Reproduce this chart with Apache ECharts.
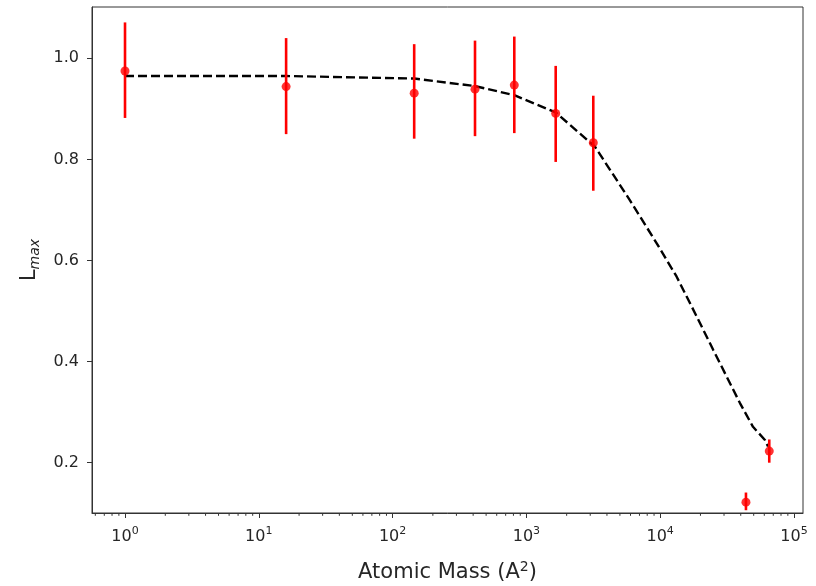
<!DOCTYPE html>
<html>
<head>
<meta charset="utf-8">
<script src="https://cdn.jsdelivr.net/npm/echarts@6/dist/echarts.min.js"></script>
<style>
html,body{margin:0;padding:0;background:#fff;}
#chart{width:816px;height:586px;}
</style>
</head>
<body>
<div id="chart"></div>
<script>
// ---- data ----
const massX   = [1, 16.0, 145, 413, 812, 1656, 3162, 43760, 65350];
const lmaxY   = [0.975, 0.944, 0.931, 0.939, 0.947, 0.891, 0.833, 0.122, 0.223];
const errLow  = [0.882, 0.850, 0.841, 0.846, 0.852, 0.795, 0.738, 0.106, 0.200];
const errHigh = [1.071, 1.040, 1.028, 1.035, 1.043, 0.985, 0.926, 0.141, 0.246];

const fitX = [1, 16, 145, 413, 812, 1656, 3258, 5945, 9420, 13280, 18760, 24940, 39460, 49400, 60650, 64000];
const fitY = [0.965, 0.965, 0.960, 0.945, 0.927, 0.893, 0.825, 0.719, 0.634, 0.568, 0.489, 0.423, 0.318, 0.271, 0.245, 0.232];

const xTickValues = [1, 10, 100, 1000, 10000, 100000];
const xTickExps   = ['0', '1', '2', '3', '4', '5'];
const yTickValues = [0.2, 0.4, 0.6, 0.8, 1.0];
const minorMultipliers = [2, 3, 4, 5, 6, 7, 8, 9];
const minorDecades = [0.1, 1, 10, 100, 1000, 10000];

const X_MIN = 0.5666, X_MAX = 116800;
const Y_MIN = 0.1005, Y_MAX = 1.1015;

const minorVals = [];
minorDecades.forEach(d => minorMultipliers.forEach(m => {
  const v = d * m;
  if (v > X_MIN && v < X_MAX) minorVals.push(v);
}));

const FONT = 'DejaVu Sans';
const TXT = '#262626';
const AX = '#333333';

const chart = echarts.init(document.getElementById('chart'), null, {renderer: 'canvas'});
chart.setOption({
  animation: false,
  backgroundColor: '#ffffff',
  grid: {left: 92, right: 13, top: 7, bottom: 73, containLabel: false, outerBoundsMode: 'none',
    show: true, borderColor: AX, borderWidth: 1, backgroundColor: 'transparent'},
  xAxis: {
    type: 'log', logBase: 10, min: X_MIN, max: X_MAX,
    name: 'Atomic Mass (A{sup|2})',
    nameLocation: 'middle', nameGap: 47,
    nameTextStyle: {fontFamily: FONT, fontSize: 21, color: TXT, lineHeight: 26,
      rich: {sup: {fontFamily: FONT, fontSize: 14, color: TXT, verticalAlign: 'top', lineHeight: 26}}},
    axisLine: {show: true, lineStyle: {color: AX, width: 1}},
    axisTick: {show: true, length: 5, lineStyle: {color: AX}, customValues: xTickValues},
    splitLine: {show: false},
    axisLabel: {
      customValues: xTickValues, margin: 13,
      fontFamily: FONT, fontSize: 16, color: TXT,
      formatter: v => {
        const i = xTickValues.findIndex(t => Math.abs(Math.log10(t) - Math.log10(v)) < 1e-6);
        return '10{sup|' + (i >= 0 ? xTickExps[i] : '') + '}';
      },
      rich: {sup: {fontFamily: FONT, fontSize: 11, color: TXT, verticalAlign: 'top', lineHeight: 22}}
    }
  },
  yAxis: {
    type: 'value', min: Y_MIN, max: Y_MAX,
    name: 'L{sub|max}',
    nameLocation: 'middle', nameGap: 49, nameRotate: 90,
    nameTextStyle: {fontFamily: FONT, fontSize: 21, color: TXT, lineHeight: 26,
      rich: {sub: {fontFamily: FONT, fontSize: 14, fontStyle: 'italic', color: TXT, verticalAlign: 'bottom', lineHeight: 22}}},
    axisLine: {show: true, lineStyle: {color: AX, width: 1}},
    axisTick: {show: true, length: 5, lineStyle: {color: AX}, customValues: yTickValues},
    splitLine: {show: false},
    axisLabel: {customValues: yTickValues, margin: 13, fontFamily: FONT, fontSize: 16, color: TXT,
      formatter: v => v.toFixed(1)}
  },
  series: [
    {
      type: 'custom', name: 'minorTicks', silent: true, clip: false, z: 1,
      data: minorVals.map(v => [v, Y_MIN]),
      encode: {x: 0, y: 1},
      renderItem: (params, api) => {
        const p = api.coord([api.value(0), api.value(1)]);
        return {type: 'line', shape: {x1: p[0], y1: p[1], x2: p[0], y2: p[1] + 2.8},
          style: {stroke: AX, lineWidth: 1}};
      }
    },
    {
      type: 'line', name: 'fit', data: fitX.map((x, i) => [x, fitY[i]]),
      showSymbol: false, smooth: false, z: 2,
      lineStyle: {color: '#000', width: 2.4, type: [9, 4]}
    },
    {
      type: 'custom', name: 'err', z: 3,
      data: massX.map((x, i) => [x, errLow[i], errHigh[i]]),
      encode: {x: 0, y: [1, 2]},
      renderItem: (params, api) => {
        const x = api.value(0);
        const lo = api.coord([x, api.value(1)]);
        const hi = api.coord([x, api.value(2)]);
        return {type: 'line', shape: {x1: lo[0], y1: lo[1], x2: hi[0], y2: hi[1]},
          style: {stroke: '#ff0000', lineWidth: 2.6}};
      }
    },
    {
      type: 'scatter', name: 'data', z: 4,
      data: massX.map((x, i) => [x, lmaxY[i]]),
      symbol: 'circle', symbolSize: 9,
      itemStyle: {color: '#ff0000'}
    }
  ]
});
</script>
</body>
</html>
